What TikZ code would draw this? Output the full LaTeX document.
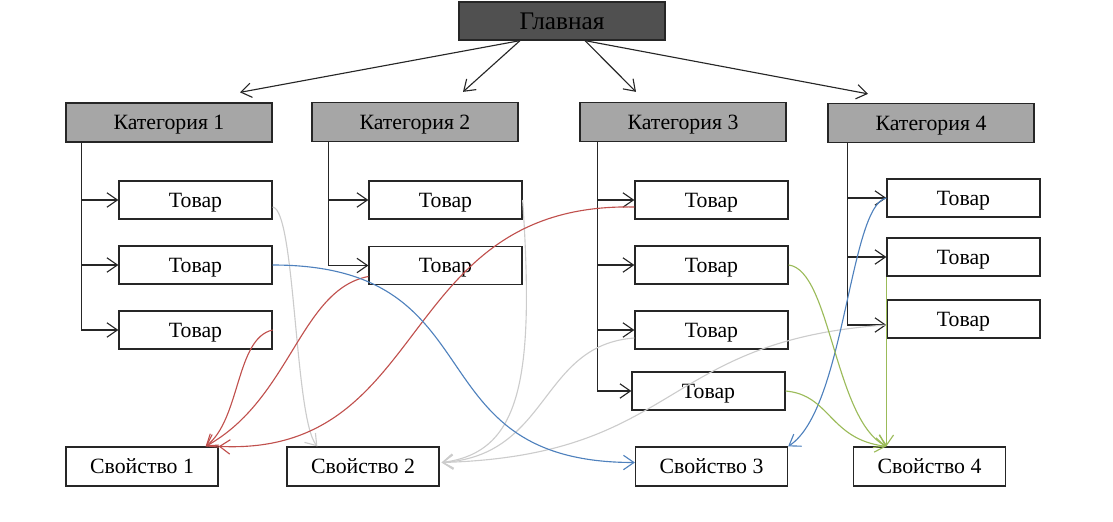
\documentclass[tikz,border=0pt]{standalone}
\usepackage{fontspec}
\setmainfont{Liberation Serif}
\usetikzlibrary{arrows.meta,calc}

\definecolor{maingray}{RGB}{80,80,80}
\definecolor{catgray}{RGB}{166,166,166}
\definecolor{linkred}{RGB}{192,80,77}
\definecolor{linkblue}{RGB}{79,129,189}
\definecolor{linkgreen}{RGB}{155,187,89}
\definecolor{linkgray}{RGB}{204,204,204}

\tikzset{
  box/.style={draw=black!85, line width=0.9pt, inner sep=0pt, text depth=0pt, font=\fontsize{15.5}{18}\selectfont},
  mainbox/.style={box, fill=maingray, minimum width=5.15cm, minimum height=0.95cm, font=\fontsize{18}{21}\selectfont},
  catbox/.style={box, fill=catgray, minimum width=5.15cm, minimum height=0.975cm},
  itembox/.style={box, minimum width=3.825cm, minimum height=0.95cm},
  propbox/.style={box, minimum width=3.8cm, minimum height=0.975cm},
  arr/.style={-{Straight Barb[length=2.6mm,width=3.6mm]}, line width=0.8pt, draw=black!85},
  link/.style={-{Straight Barb[length=2.6mm,width=3.6mm]}, line width=0.8pt},
}

\begin{document}
\begin{tikzpicture}[x=0.025cm, y=-0.025cm]
    \useasboundingbox (0,0) rectangle (1113,521);

    % top level
    \node[mainbox] (main) at (562,21) {Главная};

    \node[catbox] (k1) at (169,122.5) {Категория 1};
    \node[catbox] (k2) at (415,122) {Категория 2};
    \node[catbox] (k3) at (683,122) {Категория 3};
    \node[catbox] (k4) at (931,123) {Категория 4};

    % goods
    \node[itembox] (t11) at (195.5,200) {Товар};
    \node[itembox] (t12) at (195.5,265) {Товар};
    \node[itembox] (t13) at (195.5,330) {Товар};

    \node[itembox] (t21) at (445.5,200) {Товар};
    \node[itembox] (t22) at (445.5,265.5) {Товар};

    \node[itembox] (t31) at (711.5,200) {Товар};
    \node[itembox] (t32) at (711.5,265) {Товар};
    \node[itembox] (t33) at (711.5,330) {Товар};
    \node[itembox] (t34) at (708.5,391) {Товар};

    \node[itembox] (t41) at (963.5,198) {Товар};
    \node[itembox] (t42) at (963.5,257) {Товар};
    \node[itembox] (t43) at (963.5,319) {Товар};

    % properties
    \node[propbox] (s1) at (142,466.5) {Свойство 1};
    \node[propbox] (s2) at (363,466.5) {Свойство 2};
    \node[propbox] (s3) at (711.5,466.5) {Свойство 3};
    \node[propbox] (s4) at (929.5,466.5) {Свойство 4};

    \draw[arr] ($(main.south)+(-42,0)$) -- ($(k1.north)+(71,-10)$);
    \draw[arr] ($(main.south)+(-42,0)$) -- ($(k2.north)+(48,-10)$);
    \draw[arr] ($(main.south)+(23,0)$) -- ($(k3.north)+(-47,-10)$);
    \draw[arr] ($(main.south)+(23,0)$) -- ($(k4.north)+(-63,-9)$);

    \draw[arr] ($(k1.south west)+(16,0)$) |- (t11.west);
    \draw[arr] ($(k1.south west)+(16,0)$) |- (t12.west);
    \draw[arr] ($(k1.south west)+(16,0)$) |- (t13.west);
    \draw[arr] ($(k2.south west)+(17,0)$) |- (t21.west);
    \draw[arr] ($(k2.south west)+(17,0)$) |- (t22.west);
    \draw[arr] ($(k3.south west)+(18,0)$) |- (t31.west);
    \draw[arr] ($(k3.south west)+(18,0)$) |- (t32.west);
    \draw[arr] ($(k3.south west)+(18,0)$) |- (t33.west);
    \draw[arr] ($(k3.south west)+(18,0)$) |- (t34.west);
    \draw[arr] ($(k4.south west)+(20,0)$) |- (t41.west);
    \draw[arr] ($(k4.south west)+(20,0)$) |- (t42.west);
    \draw[arr] ($(k4.south west)+(20,0)$) |- ($(t43.west)+(0,6)$);

    % links to properties
    \draw[link, linkgray] ($(t11.east)+(0,7)$) .. controls +(23,3) and +(-23,-27) .. ($(s2.north west)+(31,0)$);
    \draw[link, linkgray] (t21.east) .. controls +(12,180) and +(79,-10) .. ($(s2.east)+(2,-4)$);
    \draw[link, linkgray] ($(t33.west)+(0,8)$) .. controls +(-95,7) and +(109,-7) .. ($(s2.east)+(2,-4)$);
    \draw[link, linkgray] ($(t43.west)+(0,6)$) .. controls +(-227,15) and +(239,-7) .. ($(s2.east)+(2,-4)$);

    \draw[link, linkred] (t13.east) .. controls +(-37,8) and +(35,-27) .. ($(s1.north east)+(-13,0)$);
    \draw[link, linkred] ($(t22.west)+(0,11)$) .. controls +(-68,13) and +(85,-47) .. ($(s1.north east)+(-13,0)$);
    \draw[link, linkred] ($(t31.west)+(0,7)$) .. controls +(-240,-5) and +(215,10) .. (s1.north east);

    \draw[link, linkblue] (t12.east) .. controls +(228,0) and +(-225,0) .. ($(s3.west)+(0,-4)$);
    \draw[link, linkblue] (t41.west) .. controls +(-37,7) and +(57,-37) .. (s3.north east);

    \draw[link, linkgreen] (t32.east) .. controls +(42,5) and +(-52,-27) .. (t42.south west |- s4.north);
    \draw[link, linkgreen] (t34.east) .. controls +(45,4) and +(-57,-7) .. (t42.south west |- s4.north);
    \draw[link, linkgreen] (t42.south west) -- (t42.south west |- s4.north);
\end{tikzpicture}
\end{document}
